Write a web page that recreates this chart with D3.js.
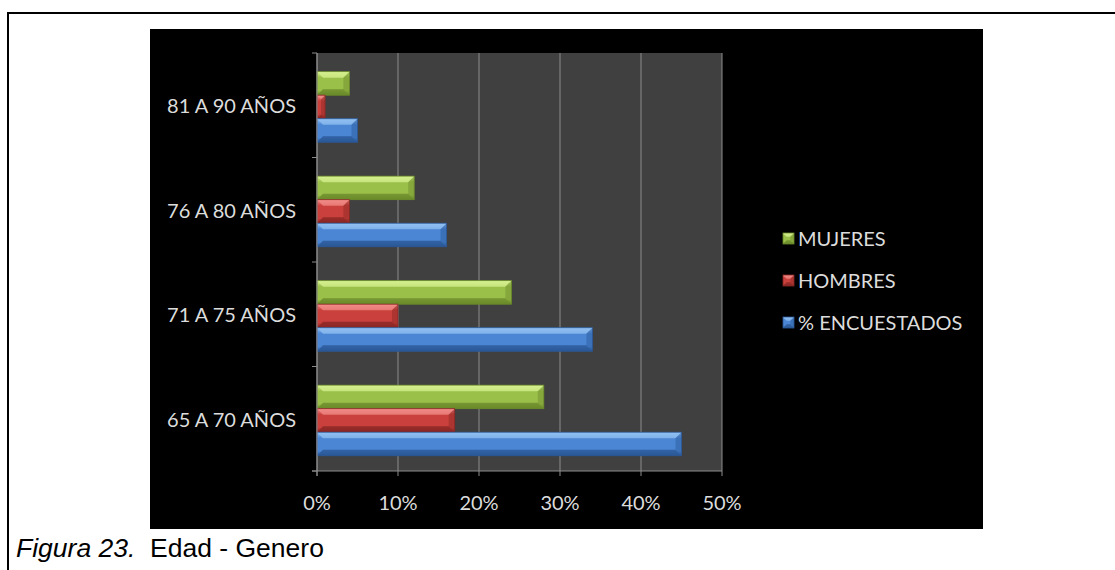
<!DOCTYPE html>
<html>
<head>
<meta charset="utf-8">
<script src="https://cdn.jsdelivr.net/npm/d3@7"></script>
<style>
  body { margin: 0; background: #fff; }
  svg { display: block; }
</style>
</head>
<body>
<script>
// data
const categories = ["65 A 70 AÑOS", "71 A 75 AÑOS", "76 A 80 AÑOS", "81 A 90 AÑOS"];
const seriesNames = ["% ENCUESTADOS", "HOMBRES", "MUJERES"];
const encuestados = [45, 34, 16, 5];
const hombres = [17, 10, 4, 1];
const mujeres = [28, 24, 12, 4];
const xTicks = [0, 10, 20, 30, 40, 50];

const width = 1115, height = 570;
const colors = {
  "% ENCUESTADOS": { base: "#4a86d4", light: "#92c0f2", dark: "#2b5896" },
  "HOMBRES": { base: "#c9403c", light: "#f28c88", dark: "#8a2724" },
  "MUJERES": { base: "#9bc04a", light: "#d6f090", dark: "#6a8a2a" }
};

const svg = d3.select("body").append("svg")
  .attr("width", width)
  .attr("height", height);

// outer frame (top and left lines)
svg.append("line").attr("x1", 7).attr("y1", 13).attr("x2", width).attr("y2", 13)
  .style("stroke", "#000").style("stroke-width", 2);
svg.append("line").attr("x1", 8).attr("y1", 12).attr("x2", 8).attr("y2", height)
  .style("stroke", "#000").style("stroke-width", 2);

// black chart area
svg.append("rect").attr("x", 150).attr("y", 29).attr("width", 833).attr("height", 500)
  .style("fill", "#000");

const plot = { left: 317, top: 53, right: 722, bottom: 471 };

const x = d3.scaleLinear().domain([0, 50]).range([plot.left, plot.right]);
const y = d3.scaleBand().domain(categories.slice().reverse()).range([plot.top, plot.bottom]);
const inner = d3.scaleBand().domain(["MUJERES", "HOMBRES", "% ENCUESTADOS"])
  .range([0, y.bandwidth()]).paddingOuter(0.72).align(0.55);

// plot background
svg.append("rect").attr("x", plot.left).attr("y", plot.top)
  .attr("width", plot.right - plot.left).attr("height", plot.bottom - plot.top)
  .style("fill", "#404040");

// gridlines
svg.selectAll(".grid")
  .data(xTicks)
  .enter()
  .append("line")
  .attr("x1", d => x(d)).attr("x2", d => x(d))
  .attr("y1", plot.top).attr("y2", plot.bottom)
  .style("stroke", "#8c8c8c").style("stroke-width", 1);

// gradients for bevel look
const defs = svg.append("defs");
Object.keys(colors).forEach(function(k, i) {
  const c = colors[k];
  const g = defs.append("linearGradient").attr("id", "g" + i)
    .attr("x1", 0).attr("y1", 0).attr("x2", 0).attr("y2", 1);
  g.append("stop").attr("offset", "0%").attr("stop-color", c.light);
  g.append("stop").attr("offset", "25%").attr("stop-color", c.base);
  g.append("stop").attr("offset", "80%").attr("stop-color", c.base);
  g.append("stop").attr("offset", "100%").attr("stop-color", c.dark);
});

const rows = [];
categories.forEach(function(cat, i) {
  rows.push({ cat: cat, s: "MUJERES", v: mujeres[i] });
  rows.push({ cat: cat, s: "HOMBRES", v: hombres[i] });
  rows.push({ cat: cat, s: "% ENCUESTADOS", v: encuestados[i] });
});
const gid = s => "g" + Object.keys(colors).indexOf(s);

function bevelBar(sel, x0, y0, w, h, s) {
  const c = colors[s];
  const b = Math.min(6, w / 2, h / 3);
  sel.append("rect").attr("x", x0).attr("y", y0).attr("width", w).attr("height", h)
    .style("fill", "url(#" + gid(s) + ")");
  // top facet
  sel.append("polygon")
    .attr("points", [[x0, y0], [x0 + w, y0], [x0 + w - b, y0 + b], [x0 + b, y0 + b]].join(" "))
    .style("fill", c.light).style("opacity", 0.75);
  // bottom facet
  sel.append("polygon")
    .attr("points", [[x0, y0 + h], [x0 + w, y0 + h], [x0 + w - b, y0 + h - b], [x0 + b, y0 + h - b]].join(" "))
    .style("fill", c.dark).style("opacity", 0.8);
  // right facet
  sel.append("polygon")
    .attr("points", [[x0 + w, y0], [x0 + w, y0 + h], [x0 + w - b, y0 + h - b], [x0 + w - b, y0 + b]].join(" "))
    .style("fill", c.dark).style("opacity", 0.45);
  sel.append("rect").attr("x", x0).attr("y", y0).attr("width", w).attr("height", h)
    .style("fill", "none").style("stroke", c.dark).style("stroke-width", 0.8);
}

svg.selectAll(".bar")
  .data(rows)
  .enter()
  .append("g")
  .each(function(d) {
    bevelBar(d3.select(this), x(0), y(d.cat) + inner(d.s), x(d.v) - x(0), inner.bandwidth(), d.s);
  });

// axes lines
svg.append("line").attr("x1", plot.left).attr("x2", plot.left).attr("y1", plot.top).attr("y2", plot.bottom + 5)
  .style("stroke", "#8c8c8c");
svg.append("line").attr("x1", plot.left - 5).attr("x2", plot.right).attr("y1", plot.bottom).attr("y2", plot.bottom)
  .style("stroke", "#8c8c8c");

// category tick marks
const bounds = categories.map(c => y(c)).concat([plot.bottom]);
svg.selectAll(".ytick")
  .data(bounds)
  .enter()
  .append("line")
  .attr("x1", plot.left - 5).attr("x2", plot.left)
  .attr("y1", d => d).attr("y2", d => d)
  .style("stroke", "#8c8c8c");

// x tick marks
svg.selectAll(".xtick")
  .data(xTicks)
  .enter()
  .append("line")
  .attr("x1", d => x(d)).attr("x2", d => x(d))
  .attr("y1", plot.bottom).attr("y2", plot.bottom + 5)
  .style("stroke", "#8c8c8c");

const labelFont = "Lato, 'Open Sans', sans-serif";

svg.selectAll(".xlab")
  .data(xTicks)
  .enter()
  .append("text")
  .attr("x", d => x(d))
  .attr("y", 510)
  .attr("text-anchor", "middle")
  .style("font-family", labelFont).style("font-size", "20px").style("fill", "#dcdcdc")
  .text(d => d + "%");

svg.selectAll(".ylab")
  .data(categories)
  .enter()
  .append("text")
  .attr("x", 296)
  .attr("y", d => y(d) + y.bandwidth() / 2 + 1)
  .attr("dy", "0.35em")
  .attr("text-anchor", "end")
  .style("font-family", labelFont).style("font-size", "20px").style("fill", "#dcdcdc")
  .text(d => d);

// legend
const legendOrder = ["MUJERES", "HOMBRES", "% ENCUESTADOS"];
const legend = svg.selectAll(".leg")
  .data(legendOrder)
  .enter()
  .append("g")
  .attr("transform", (d, i) => "translate(783," + (233 + i * 42) + ")");
legend.each(function(d) { bevelBar(d3.select(this), 0, 0, 11, 11, d); });
legend.append("text")
  .attr("x", 15).attr("y", 5.5).attr("dy", "0.35em")
  .style("font-family", labelFont).style("font-size", "20px").style("fill", "#dcdcdc")
  .text(d => d);

// caption
const cap = svg.append("text").attr("x", 16).attr("y", 557)
  .style("font-family", "'Liberation Sans', Arial, sans-serif").style("font-size", "26.5px").style("fill", "#000");
cap.append("tspan").style("font-style", "italic").text("Figura 23.");
cap.append("tspan").text("\u00a0 Edad - Genero");
</script>
</body>
</html>
